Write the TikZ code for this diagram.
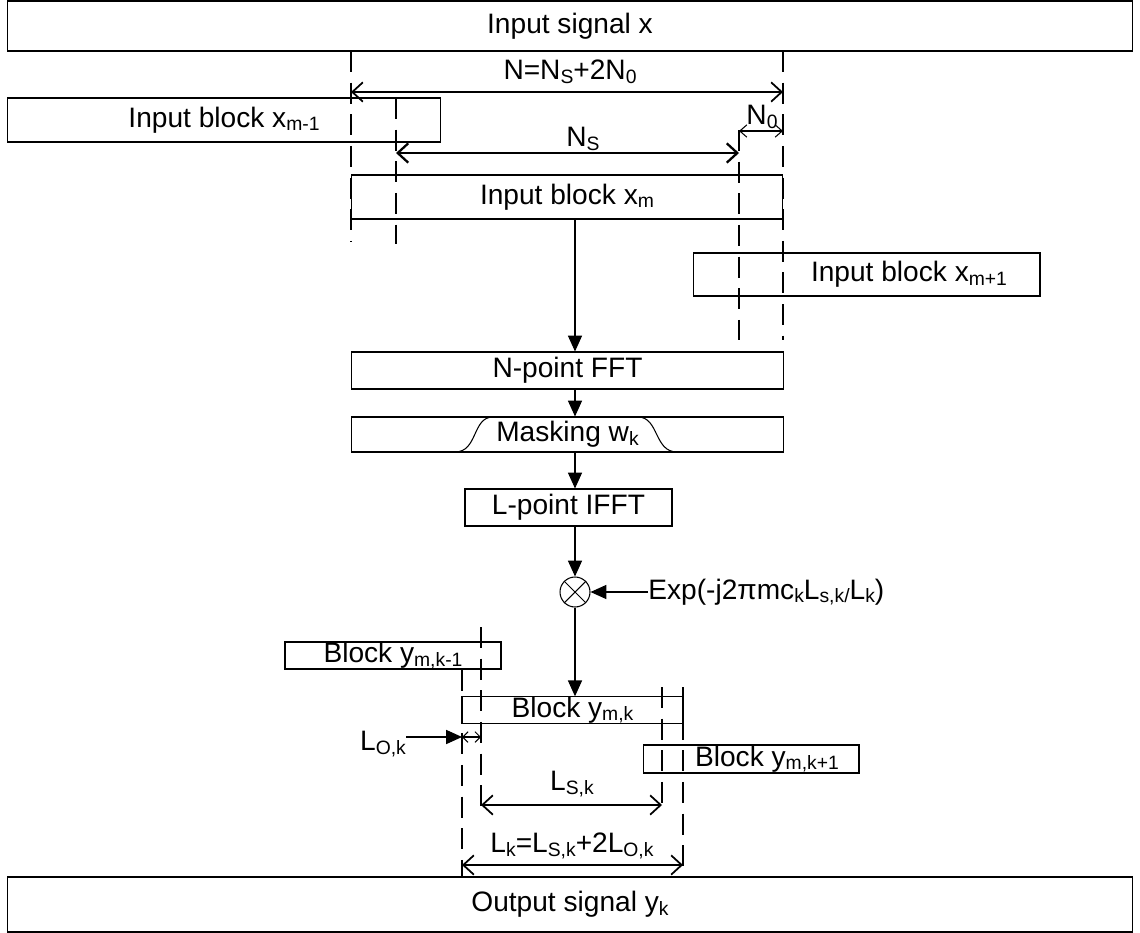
\documentclass[tikz,border=0pt]{standalone}
\usepackage{fontspec}
\setmainfont{Liberation Sans}
\usetikzlibrary{arrows.meta}
\newcommand{\sbs}[1]{\raisebox{-2pt}{\fontsize{11}{11}\selectfont #1}}
\tikzset{
  blk/.style={draw,line width=0.6pt,inner sep=0pt},
  lbl/.style={font=\fontsize{16}{19}\selectfont,inner sep=0pt},
  flow/.style={line width=0.6pt,-{Triangle[length=9pt,width=8pt]}},
  dim/.style={line width=1pt,{Straight Barb[length=6pt,width=11pt]}-{Straight Barb[length=6pt,width=11pt]}},
  dimsmall/.style={line width=0.6pt,{Straight Barb[length=4pt,width=7pt]}-{Straight Barb[length=4pt,width=7pt]}},
  guide/.style={line width=1.5pt,dash pattern=on 12pt off 6pt},
}
\begin{document}
\begin{tikzpicture}[x=0.02cm,y=-0.02cm]
  \useasboundingbox (0,0) rectangle (1140,933);
  % input side
  \node[blk,lbl,minimum width=22.52cm,minimum height=1.0cm] (insig) at (570,26) {Input signal x};
  \node[blk,lbl,minimum width=8.68cm,minimum height=0.88cm] (xmm) at (224,120) {Input block x\sbs{m-1}};
  \node[blk,lbl,minimum width=8.64cm,minimum height=0.88cm] (xm) at (567,197) {Input block x\sbs{m}};
  \node[blk,minimum width=6.94cm,minimum height=0.86cm] (xmp) at (866.5,274.5) {};
  \node[lbl] (xmptxt) at (909,274.5) {Input block x\sbs{m+1}};
  % guide lines of the input block
  \draw[guide] (351,51) -- (351,242);
  \draw[guide] (396,98) -- (396,244);
  \draw[guide] (739,130) -- (739,340);
  \draw[guide] (783,51) -- (783,340);
  \coordinate (nl) at (351,92);
  \coordinate (nr) at (783,92);
  \coordinate (nsl) at (396,153);
  \coordinate (nsr) at (739,153);
  \coordinate (nol) at (739,131);
  \coordinate (nor) at (783,131);
  \draw[dim] (nl) -- (nr);
  \node[lbl] (ntxt) at (570,72) {N=N\sbs{S}+2N\sbs{0}};
  \draw[dim,line width=1.3pt] (nsl) -- (nsr);
  \node[lbl] (nstxt) at (583,139) {N\sbs{S}};
  \draw[dimsmall] (nol) -- (nor);
  \node[lbl] (notxt) at (762,117) {N\sbs{0}};
  % processing chain
  \node[blk,lbl,minimum width=8.66cm,minimum height=0.74cm] (fft) at (567.5,370.5) {N-point FFT};
  \node[blk,lbl,minimum width=8.66cm,minimum height=0.70cm] (mask) at (567.5,434.5) {Masking w\sbs{k}};
  \draw[line width=0.6pt] (455,452) .. controls (478,452) and (472,417) .. (493,417);
  \draw[line width=0.6pt] (638,417) .. controls (659,417) and (654,452) .. (677,452);
  \node[blk,lbl,minimum width=4.14cm,minimum height=0.74cm] (ifft) at (568.5,507.5) {L-point IFFT};
  \node[draw,circle,line width=0.6pt,minimum size=0.6cm,inner sep=0pt] (mult) at (575,592) {};
  \draw[line width=0.6pt] (mult.north west) -- (mult.south east);
  \draw[line width=0.6pt] (mult.north east) -- (mult.south west);
  \node[lbl,anchor=west] (exptxt) at (648,592) {Exp(-j2πmc\sbs{k}L\sbs{s,k/}L\sbs{k})};
  \draw[flow] (xm.south -| mult) -- (fft.north -| mult);
  \draw[flow] (fft.south -| mult) -- (mask.north -| mult);
  \draw[flow] (mask.south -| mult) -- (ifft.north -| mult);
  \draw[flow] (ifft.south -| mult) -- (mult.north);
  \draw[flow] (exptxt.west) -- (mult.east);
  % output blocks
  \node[blk,lbl,minimum width=4.32cm,minimum height=0.54cm] (ykm) at (393,655.5) {Block y\sbs{m,k-1}};
  \node[blk,lbl,minimum width=4.42cm,minimum height=0.52cm] (yk) at (572.5,710) {Block y\sbs{m,k}};
  \node[blk,minimum width=4.32cm,minimum height=0.56cm] (ykp) at (751,759) {};
  \node[lbl] (ykptxt) at (767,759) {Block y\sbs{m,k+1}};
  \draw[flow] (mult.south) -- (yk.north -| mult);
  \node[blk,lbl,minimum width=22.52cm,minimum height=1.1cm] (outsig) at (570,904.5) {Output signal y\sbs{k}};
  % guide lines of the output block
  \draw[guide] (462,670) -- (462,877);
  \draw[guide] (481,627) -- (481,810);
  \draw[guide] (662,687) -- (662,810);
  \draw[guide] (683,687) -- (683,877);
  \coordinate (lol) at (462,737);
  \coordinate (lor) at (481,737);
  \coordinate (lsl) at (481,805);
  \coordinate (lsr) at (662,805);
  \coordinate (lkl) at (462,865);
  \coordinate (lkr) at (683,865);
  \draw[dimsmall,{Straight Barb[length=3pt,width=6pt]}-{Straight Barb[length=3pt,width=6pt]}] (lol) -- (lor);
  \node[lbl] (lotxt) at (383,744) {L\sbs{O,k}};
  \draw[flow] (lotxt.east |- lol) -- (lol);
  \draw[dim] (lsl) -- (lsr);
  \node[lbl] (lstxt) at (572,784) {L\sbs{S,k}};
  \draw[dim] (lkl) -- (lkr);
  \node[lbl] (lktxt) at (572,846) {L\sbs{k}=L\sbs{S,k}+2L\sbs{O,k}};
\end{tikzpicture}
\end{document}
